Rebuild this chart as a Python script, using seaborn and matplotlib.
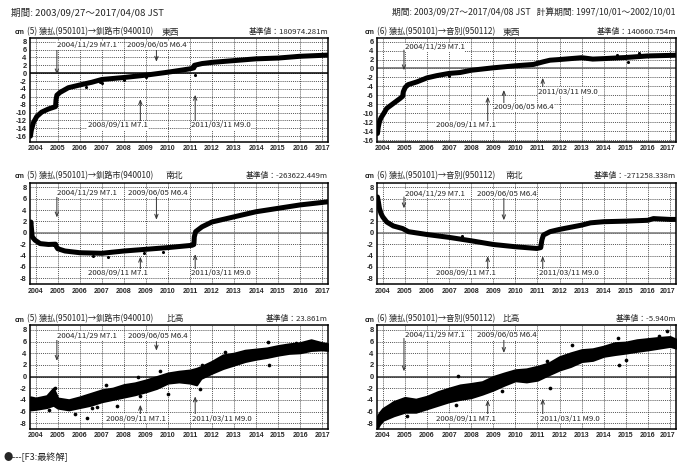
import matplotlib
matplotlib.use("Agg")
import matplotlib.pyplot as plt
import matplotlib.transforms as mtransforms
import seaborn as sns
import numpy as np
from matplotlib import font_manager

# ---------------- data ----------------
years = list(range(2004, 2018))
x_start, x_end = 2003.74, 2017.27

# (5) E-W
tl_year = [2003.76, 2003.80, 2003.90, 2004.05, 2004.27, 2004.58, 2004.90, 2004.92, 2004.96, 2005.10, 2005.48,
           2006.0, 2006.55, 2007.0, 2008.0, 2009.0, 2010.0, 2011.0, 2011.18, 2011.20, 2011.55, 2012.0, 2013.0,
           2014.0, 2015.0, 2016.0, 2017.27]
tl_val = [-16.0, -14.5, -12.5, -11.0, -9.9, -9.1, -8.5, -6.8, -5.6, -4.9, -3.7,
          -3.0, -2.3, -1.6, -1.1, -0.5, 0.25, 1.1, 1.35, 2.0, 2.45, 2.75, 3.2,
          3.65, 3.85, 4.3, 4.6]
tl_out_x = [2006.3, 2006.9, 2007.0, 2008.0, 2009.0, 2011.22]
tl_out_y = [-3.4, -2.3, -2.4, -1.8, -1.0, -0.4]

# (6) E-W
tr_year = [2003.76, 2003.80, 2003.85, 2003.92, 2004.0, 2004.18, 2004.48, 2004.78, 2004.90, 2004.93, 2005.02,
           2005.15, 2005.54, 2006.0, 2006.44, 2007.0, 2007.5, 2008.0, 2009.0, 2010.0, 2010.82, 2011.27,
           2011.57, 2012.0, 2013.0, 2013.5, 2014.0, 2015.0, 2016.0, 2017.27]
tr_val = [-14.5, -13.0, -11.9, -11.0, -10.4, -8.9, -7.8, -6.7, -6.2, -5.2, -4.2,
          -3.6, -3.0, -2.1, -1.6, -1.1, -0.9, -0.4, 0.15, 0.6, 0.9, 1.5,
          1.85, 2.0, 2.4, 2.1, 2.2, 2.45, 2.8, 2.95]
tr_out_x = [2007.0, 2014.6, 2015.1, 2015.6]
tr_out_y = [-1.6, 2.9, 1.4, 3.4]

# (5) N-S
ml_year = [2003.76, 2003.78, 2003.80, 2003.84, 2003.97, 2004.2, 2004.58, 2004.90, 2004.95, 2005.0, 2005.33,
           2006.0, 2007.0, 2008.0, 2009.0, 2010.0, 2011.09, 2011.18, 2011.20, 2011.26, 2011.55, 2012.0,
           2013.0, 2014.0, 2015.0, 2016.0, 2017.27]
ml_val = [1.5, 1.9, 1.0, -0.7, -1.3, -1.9, -2.05, -2.0, -2.5, -2.8, -3.2,
          -3.5, -3.6, -3.2, -2.9, -2.6, -2.2, -2.05, -0.7, 0.2, 1.05, 1.9,
          2.8, 3.7, 4.3, 4.9, 5.45]
ml_out_x = [2006.6, 2007.3, 2008.9, 2009.8]
ml_out_y = [-4.0, -4.2, -3.6, -3.3]

# (6) N-S
mr_year = [2003.76, 2003.80, 2003.85, 2003.92, 2004.0, 2004.18, 2004.48, 2004.90, 2005.16, 2006.0, 2007.0,
           2008.0, 2009.0, 2010.0, 2010.97, 2011.15, 2011.20, 2011.27, 2011.57, 2012.0, 2013.0, 2013.4,
           2014.0, 2015.0, 2016.0, 2016.25, 2017.0, 2017.27]
mr_val = [6.3, 5.5, 4.3, 3.4, 2.8, 1.9, 1.2, 0.75, 0.2, -0.3, -0.8,
          -1.4, -2.05, -2.45, -2.75, -2.6, -1.3, -0.4, 0.2, 0.6, 1.35, 1.75,
          1.95, 2.05, 2.2, 2.5, 2.35, 2.35]
mr_out_x = [2007.6, 2011.18]
mr_out_y = [-0.6, -1.9]

# (5) height
bl_year = [2003.76, 2004.0, 2004.5, 2004.8, 2005.0, 2005.5, 2006.0, 2006.5, 2007.0, 2007.5, 2008.0, 2008.5,
           2009.0, 2009.5, 2010.0, 2010.5, 2011.0, 2011.3, 2011.5, 2012.0, 2012.5, 2013.0, 2013.5, 2014.0,
           2014.5, 2015.0, 2015.5, 2016.0, 2016.5, 2017.0, 2017.27]
bl_lo = [-5.7, -5.6, -5.3, -4.9, -5.4, -5.7, -5.3, -4.9, -4.3, -3.9, -3.5, -3.1,
         -2.6, -2.0, -1.1, -0.9, -1.1, -1.4, -0.3, 0.6, 1.4, 2.0, 2.6, 3.0,
         3.3, 3.7, 4.0, 4.1, 4.5, 4.6, 4.5]
bl_hi = [-3.5, -3.7, -3.3, -2.0, -3.7, -4.0, -3.5, -2.9, -2.3, -2.0, -1.4, -1.1,
         -0.6, 0.0, 0.6, 0.9, 1.1, 1.4, 1.7, 2.6, 3.7, 4.0, 4.5, 4.7,
         4.9, 5.3, 5.6, 5.8, 6.3, 5.8, 5.6]
bl_out_x = [2004.58, 2004.88, 2005.8, 2006.35, 2006.55, 2006.8, 2007.2, 2007.7, 2008.65, 2008.75, 2009.65,
            2010.0, 2011.45, 2011.55, 2012.6, 2014.55, 2014.6, 2015.8]
bl_out_y = [-5.7, -2.0, -6.4, -7.1, -5.4, -5.3, -1.5, -5.0, 0.0, -3.4, 0.9,
            -3.0, -2.1, 2.0, 4.3, 6.0, 2.0, 5.7]

# (6) height
br_year = [2003.76, 2003.85, 2004.0, 2004.5, 2005.0, 2005.5, 2006.0, 2006.5, 2007.0, 2007.5, 2008.0, 2008.5,
           2009.0, 2009.5, 2010.0, 2010.5, 2011.0, 2011.5, 2012.0, 2012.5, 2013.0, 2013.5, 2014.0, 2014.5,
           2015.0, 2015.5, 2016.0, 2016.5, 2017.0, 2017.27]
br_lo = [-8.8, -8.2, -7.5, -6.7, -6.1, -6.1, -5.5, -4.9, -4.3, -3.9, -3.6, -3.0,
         -2.3, -1.45, -0.7, -0.9, -0.6, 0.3, 1.15, 1.75, 2.6, 2.8, 3.5, 3.8,
         4.05, 4.35, 4.6, 4.9, 5.2, 4.9]
br_hi = [-6.8, -6.2, -5.5, -4.3, -3.6, -3.9, -3.4, -2.6, -2.0, -1.45, -1.2, -0.9,
         0.0, 0.6, 1.15, 1.3, 1.75, 2.3, 3.4, 4.05, 4.6, 4.75, 5.2, 5.8,
         5.9, 6.3, 6.5, 6.7, 6.85, 6.4]
br_out_x = [2004.45, 2005.1, 2007.3, 2007.4, 2009.4, 2011.45, 2011.55, 2012.55, 2014.65, 2014.7, 2015.0,
            2016.5, 2016.85]
br_out_y = [-4.5, -6.7, -4.8, 0.1, -2.5, 2.6, -1.9, 5.4, 6.6, 1.9, 2.9,
            6.9, 7.8]

eq_dates = [2004.91, 2008.70, 2009.43, 2011.19]
eq_labels = ["2004/11/29 M7.1", "2008/09/11 M7.1", "2009/06/05 M6.4", "2011/03/11 M9.0"]

titles = ["(5) 猿払(950101)→釧路市(940010)", "(6) 猿払(950101)→音別(950112)"]
components = ["東西", "南北", "比高"]
base_values = [["基準値：180974.281m", "基準値：140660.754m"],
               ["基準値：-263622.449m", "基準値：-271258.338m"],
               ["基準値：23.861m", "基準値：-5.940m"]]
header_left = "期間: 2003/09/27～2017/04/08 JST"
header_right = "期間: 2003/09/27～2017/04/08 JST   計算期間: 1997/10/01～2002/10/01"
legend_text = "●---[F3:最終解]"

# ---------------- style ----------------
sns.set_style("white")
plt.rcParams['font.family'] = ['Noto Sans CJK JP', 'DejaVu Sans']
avail = {f.name for f in font_manager.fontManager.ttflist}
tick_font = 'Liberation Sans Narrow' if 'Liberation Sans Narrow' in avail else 'Liberation Sans'

W, H = 677, 466
fig = plt.figure(figsize=(W / 100, H / 100), dpi=100)


def px_axes(x0, y0, x1, y1):
    return fig.add_axes([x0 / W, 1 - y1 / H, (x1 - x0) / W, (y1 - y0) / H])


def ftext(x, y, s, ha='left', size=6.5, **kw):
    fig.text(x / W, 1 - y / H, s, ha=ha, va='center', fontsize=size, **kw)


cols = [(30, 328), (377, 676)]
rows = [(38, 142), (183.3, 284.3), (325, 429)]
ylims = [[(-17.5, 8.95), (-16.4, 6.8)], [(-9.05, 8.7), (-9.05, 8.7)], [(-9.0, 8.85), (-9.0, 8.85)]]
yticks = [[np.arange(-16, 9, 2), np.arange(-16, 7, 2)], [np.arange(-8, 9, 2)] * 2, [np.arange(-8, 9, 2)] * 2]
zero_colors = [['black', '#666666'], ['#777777', '#777777'], ['#222222', '#333333']]

line_series = {(0, 0): (tl_year, tl_val, tl_out_x, tl_out_y),
               (0, 1): (tr_year, tr_val, tr_out_x, tr_out_y),
               (1, 0): (ml_year, ml_val, ml_out_x, ml_out_y),
               (1, 1): (mr_year, mr_val, mr_out_x, mr_out_y)}
band_series = {(2, 0): (bl_year, bl_lo, bl_hi, bl_out_x, bl_out_y),
               (2, 1): (br_year, br_lo, br_hi, br_out_x, br_out_y)}

# annotation layout: per event (text_x, text_y, tail_y, tip_y)
ann = {
    (0, 0): [(2004.95, 7.1, 6.3, -0.3), (2006.36, -13.3, -12.5, -6.6), (2008.14, 7.1, 5.9, 2.9), (2011.05, -13.3, -12.5, -5.5)],
    (0, 1): [(2005.01, 4.7, 4.1, -0.4), (2006.39, -12.7, -12.0, -6.3), (2009.03, -8.7, -8.1, -4.8), (2011.04, -5.2, -4.4, -2.1)],
    (1, 0): [(2004.95, 7.0, 6.4, 2.7), (2006.36, -7.15, -6.6, -4.2), (2008.18, 7.0, 6.4, 2.3), (2011.05, -7.15, -6.6, -3.75)],
    (1, 1): [(2005.01, 6.9, 6.3, 4.3), (2006.39, -7.15, -6.45, -4.1), (2008.28, 6.9, 6.3, 2.2), (2011.08, -7.15, -6.6, -4.1)],
    (2, 0): [(2004.95, 7.0, 6.45, 2.7), (2007.20, -7.25, -6.6, -4.85), (2008.18, 7.0, 6.0, 4.45), (2011.09, -7.25, -6.6, -3.4)],
    (2, 1): [(2005.01, 7.1, 6.55, 0.9), (2006.39, -7.25, -6.7, -4.05), (2008.25, 7.1, 6.55, 4.05), (2011.11, -7.25, -6.7, -3.8)],
}

title_y = [32, 175.7, 319]
comp_x = [[162, 503], [165, 505], [167, 503]]

for r in range(3):
    for c in range(2):
        x0, x1 = cols[c]
        y0, y1 = rows[r]
        ax = px_axes(x0, y0, x1, y1)
        ax.set_xlim(x_start, x_end)
        ax.set_ylim(*ylims[r][c])
        ax.set_xticks(years)
        ax.set_xticklabels([str(y) for y in years])
        ax.set_yticks(yticks[r][c])
        ax.set_yticklabels([str(int(v)) for v in yticks[r][c]])
        ax.grid(True, linestyle=(0, (1.5, 1.5)), color='black', linewidth=0.5, alpha=0.9)
        ax.set_axisbelow(True)
        ax.tick_params(axis='both', which='major', length=0, pad=2.5)
        for lab in ax.get_xticklabels():
            lab.set_fontfamily(tick_font)
            lab.set_fontsize(5.0)
            lab.set_fontweight('bold')
        for lab in ax.get_yticklabels():
            lab.set_fontfamily(tick_font)
            lab.set_fontsize(5.4)
            lab.set_fontweight('bold')
        if c == 1:
            last = ax.get_xticklabels()[-1]
            last.set_transform(last.get_transform() +
                               mtransforms.ScaledTranslation(-3 / 100, 0, fig.dpi_scale_trans))
        for sp in ax.spines.values():
            sp.set_color('black')
            sp.set_linewidth(1.1)
        ax.axhline(0, color=zero_colors[r][c], linewidth=1.1, zorder=1.5)

        if (r, c) in line_series:
            xs, ys, ox, oy = line_series[(r, c)]
            sns.lineplot(x=xs, y=ys, ax=ax, color='black', linewidth=3.6, sort=False,
                         solid_capstyle='round', solid_joinstyle='round', zorder=3)
            sns.scatterplot(x=ox, y=oy, ax=ax, color='black', s=5, linewidth=0, zorder=3)
        else:
            xs, lo, hi, ox, oy = band_series[(r, c)]
            ax.fill_between(xs, lo, hi, color='black', linewidth=1.6, edgecolor='black', zorder=3)
            sns.lineplot(x=xs, y=[(a + b) / 2 for a, b in zip(lo, hi)], ax=ax, color='black',
                         linewidth=1.0, zorder=3)
            sns.scatterplot(x=ox, y=oy, ax=ax, color='black', s=7, linewidth=0, zorder=3)

        for (tx, ty, tail, tip), d, lab in zip(ann[(r, c)], eq_dates, eq_labels):
            ax.text(tx, ty, lab, fontsize=5.6, ha='left', va='center', color='#222222', zorder=5,
                    bbox=dict(facecolor='white', edgecolor='none', pad=0.3))
            ax.annotate('', xy=(d + 0.05, tip), xytext=(d + 0.05, tail), zorder=4,
                        arrowprops=dict(arrowstyle='->,head_length=0.3,head_width=0.12',
                                        color='#333333', lw=0.7, shrinkA=0, shrinkB=0))
        ax.set_xlabel('')
        ax.set_ylabel('')

        # titles
        cx = 15 if c == 0 else 365
        ftext(cx, title_y[r], 'cm', size=4.8, fontweight='bold')
        ftext(cx + 12, title_y[r], titles[c], size=5.9)
        ftext(comp_x[r][c], title_y[r], components[r], size=6.3)
        ftext(x1, title_y[r], base_values[r][c], ha='right', size=5.6)

ftext(11, 13, header_left, size=6.9)
ftext(675, 13, header_right, ha='right', size=6.3)
ftext(3, 456, legend_text, size=6.6)

fig.savefig('out.png', dpi=100)
